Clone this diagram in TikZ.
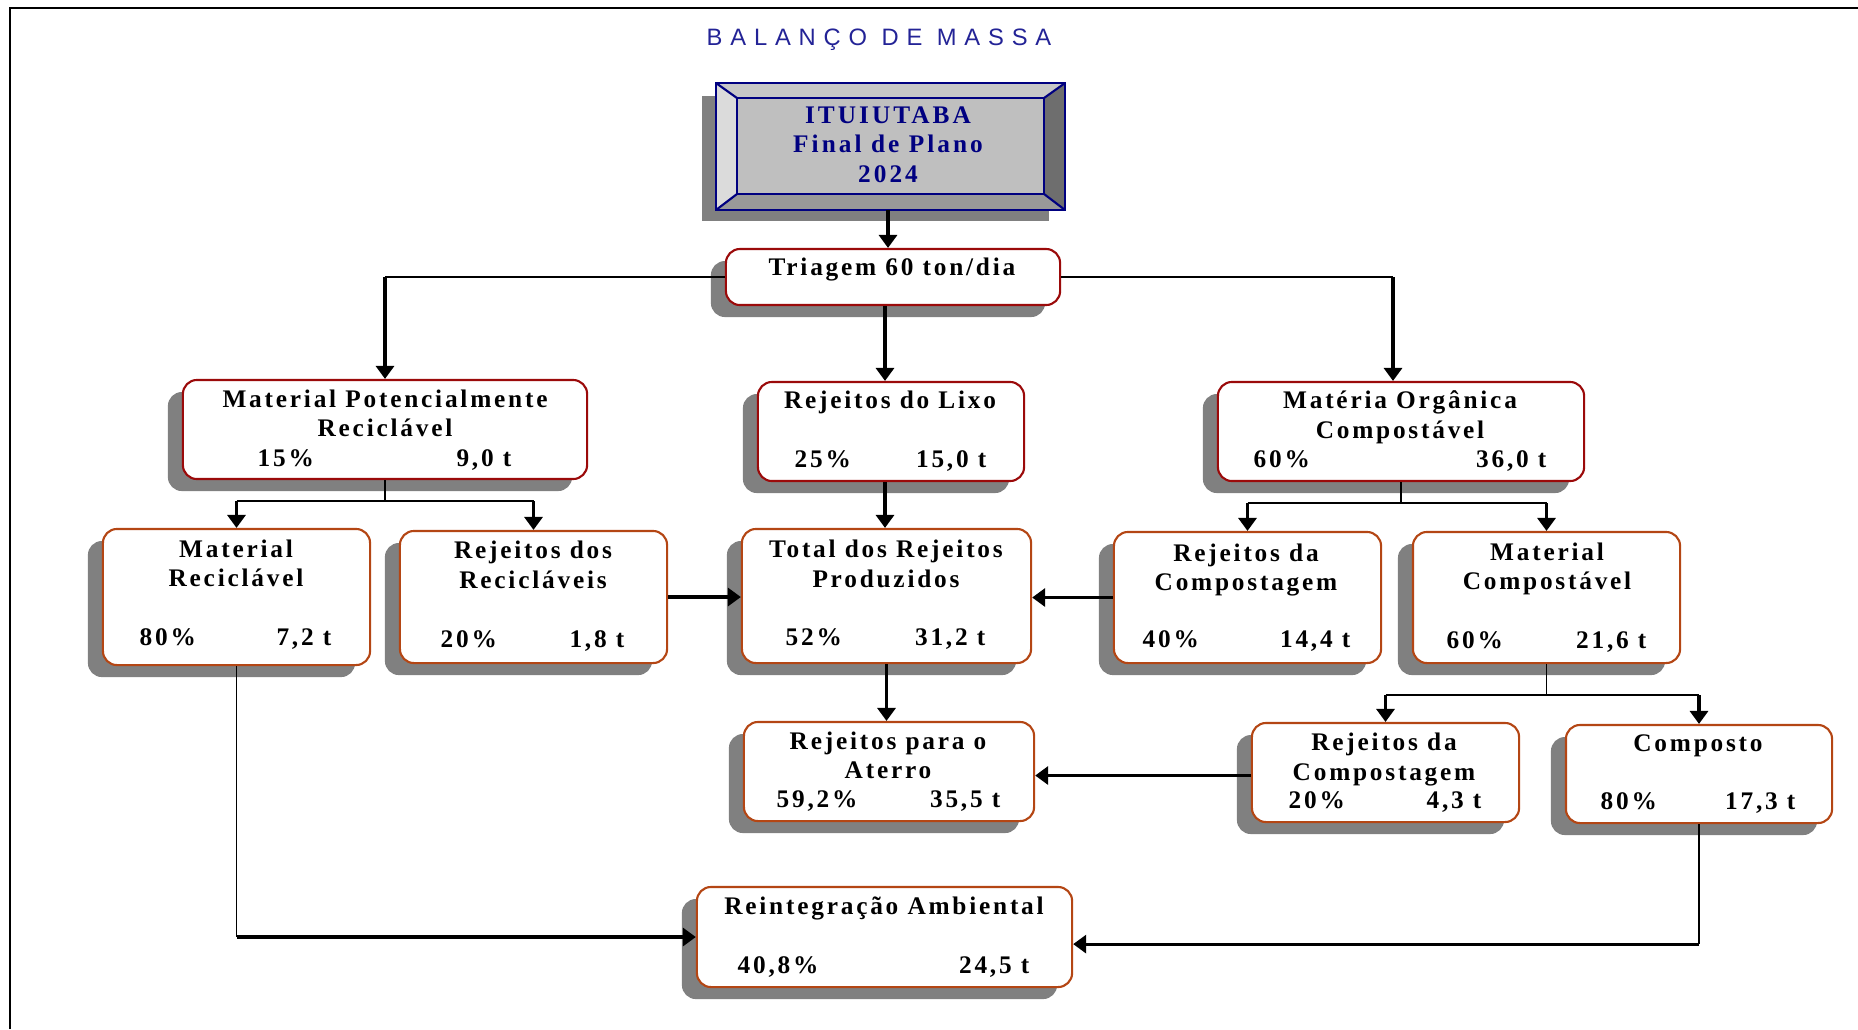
\documentclass[tikz,border=0pt]{standalone}
\usepackage{fontspec}
\setmainfont{Liberation Serif}
\newfontfamily\caixafont[LetterSpace=11]{Liberation Serif}
\newfontfamily\topofont[LetterSpace=12]{Liberation Serif}
\newfontfamily\titulofont[LetterSpace=33]{Liberation Sans}
\usepackage{tikz}
\usetikzlibrary{positioning,shadows,calc,arrows.meta}
\usepackage{xcolor}

\definecolor{marinho}{RGB}{0,0,128}
\definecolor{titazul}{RGB}{35,35,150}
\definecolor{vinho}{RGB}{155,10,10}
\definecolor{ferrugem}{RGB}{180,70,20}

\tikzset{
  caixa/.style={rectangle, draw=ferrugem, line width=0.6pt, fill=white, rounded corners=0.14cm,
    drop shadow={shadow xshift=-0.15cm, shadow yshift=-0.12cm, fill=black!50, opacity=1}},
  txt/.style={inner sep=0pt, font=\caixafont\bfseries\fontsize{7.2}{8.6}\selectfont},
  seta/.style={-{Triangle[length=0.13cm,width=0.18cm]}, line width=0.9pt},
  fina/.style={line width=0.45pt},
}

\begin{document}
\begin{tikzpicture}[x=0.01cm, y=-0.01cm]

  \useasboundingbox (0,0) rectangle (1858,1029);
  \draw[line width=0.7pt] (10,1029) -- (10,8) -- (1858,8);

  % Title
  \node[inner sep=0pt, anchor=base, text=titazul, font=\titulofont\fontsize{6.75}{8}\selectfont] (titulo) at (879,45) {BALANÇO DE MASSA};

  % Top box
  \node[draw=marinho, line width=0.6pt, fill=black!25, minimum width=3.47cm, minimum height=1.25cm,
    drop shadow={shadow xshift=-0.15cm, shadow yshift=-0.12cm, fill=black!50, opacity=1}] (topo) at (890.5,146.5) {};
  \coordinate (inw) at ($(topo.north west)+(21,15)$);
  \coordinate (ine) at ($(topo.north east)+(-21,15)$);
  \coordinate (ise) at ($(topo.south east)+(-21,-16)$);
  \coordinate (isw) at ($(topo.south west)+(21,-16)$);
  \fill[black!22] (topo.north west) -- (topo.north east) -- (ine) -- (inw) -- cycle;
  \fill[black!14] (topo.north west) -- (inw) -- (isw) -- (topo.south west) -- cycle;
  \fill[black!57] (topo.north east) -- (topo.south east) -- (ise) -- (ine) -- cycle;
  \fill[black!40] (topo.south west) -- (isw) -- (ise) -- (topo.south east) -- cycle;
  \draw[marinho, line width=0.6pt, fill=black!25] (inw) rectangle (ise);
  \draw[marinho, line width=0.6pt] (topo.north west) -- (inw) (topo.north east) -- (ine)
    (topo.south east) -- (ise) (topo.south west) -- (isw);
  \draw[marinho, line width=0.6pt] (topo.north west) rectangle (topo.south east);
  \node[txt, anchor=base, text=marinho, font=\topofont\bfseries\fontsize{7.2}{8.6}\selectfont] (topo-l1) at (888,123) {ITUIUTABA};
  \node[txt, anchor=base, text=marinho, font=\topofont\bfseries\fontsize{7.2}{8.6}\selectfont] (topo-l2) at (888,152) {Final de Plano};
  \node[txt, anchor=base, text=marinho, font=\topofont\bfseries\fontsize{7.2}{8.6}\selectfont] (topo-l3) at (888,182) {2024};

  % Boxes
  \node[caixa, draw=vinho, minimum width=3.34cm, minimum height=0.56cm] (tri) at (893,277) {};
  \node[caixa, draw=vinho, minimum width=4.04cm, minimum height=0.99cm] (mpr) at (385,429.5) {};
  \node[caixa, draw=vinho, minimum width=2.66cm, minimum height=0.99cm] (rdl) at (891,431.5) {};
  \node[caixa, draw=vinho, minimum width=3.66cm, minimum height=0.99cm] (moc) at (1401,431.5) {};
  \node[caixa, minimum width=2.67cm, minimum height=1.36cm] (mr) at (236.5,597) {};
  \node[caixa, minimum width=2.67cm, minimum height=1.32cm] (rdr) at (533.5,597) {};
  \node[caixa, minimum width=2.89cm, minimum height=1.34cm] (tot) at (886.5,596) {};
  \node[caixa, minimum width=2.67cm, minimum height=1.31cm] (rdc) at (1247.5,597.5) {};
  \node[caixa, minimum width=2.67cm, minimum height=1.31cm] (mc) at (1546.5,597.5) {};
  \node[caixa, minimum width=2.90cm, minimum height=0.99cm] (rpa) at (889,771.5) {};
  \node[caixa, minimum width=2.67cm, minimum height=0.99cm] (rdc2) at (1385.5,772.5) {};
  \node[caixa, minimum width=2.66cm, minimum height=0.98cm] (comp) at (1699,774) {};
  \node[caixa, minimum width=3.75cm, minimum height=1.00cm] (rei) at (884.5,937) {};

  % Texts
  \node[txt, anchor=base] (tri-l1) at (892,275) {Triagem 60 ton/dia};

  \node[txt, anchor=base] (mpr-l1) at (385,407) {Material Potencialmente};
  \node[txt, anchor=base] (mpr-l2) at (385,436) {Reciclável};
  \node[txt, anchor=base west] (mpr-p) at (257,466) {15\%};
  \node[txt, anchor=base east] (mpr-t) at (512,466) {9,0 t};

  \node[txt, anchor=base] (rdl-l1) at (890,408) {Rejeitos do Lixo};
  \node[txt, anchor=base west] (rdl-p) at (794,467) {25\%};
  \node[txt, anchor=base east] (rdl-t) at (987,467) {15,0 t};

  \node[txt, anchor=base] (moc-l1) at (1400,408) {Matéria Orgânica};
  \node[txt, anchor=base] (moc-l2) at (1400,438) {Compostável};
  \node[txt, anchor=base west] (moc-p) at (1253,467) {60\%};
  \node[txt, anchor=base east] (moc-t) at (1547,467) {36,0 t};

  \node[txt, anchor=base] (mr-l1) at (236,557) {Material};
  \node[txt, anchor=base] (mr-l2) at (236,586) {Reciclável};
  \node[txt, anchor=base west] (mr-p) at (139,645) {80\%};
  \node[txt, anchor=base east] (mr-t) at (332,645) {7,2 t};

  \node[txt, anchor=base] (rdr-l1) at (533,558) {Rejeitos dos};
  \node[txt, anchor=base] (rdr-l2) at (533,588) {Recicláveis};
  \node[txt, anchor=base west] (rdr-p) at (440,647) {20\%};
  \node[txt, anchor=base east] (rdr-t) at (625,647) {1,8 t};

  \node[txt, anchor=base] (tot-l1) at (886,557) {Total dos Rejeitos};
  \node[txt, anchor=base] (tot-l2) at (886,587) {Produzidos};
  \node[txt, anchor=base west] (tot-p) at (785,645) {52\%};
  \node[txt, anchor=base east] (tot-t) at (986,645) {31,2 t};

  \node[txt, anchor=base] (rdc-l1) at (1246,561) {Rejeitos da};
  \node[txt, anchor=base] (rdc-l2) at (1246,590) {Compostagem};
  \node[txt, anchor=base west] (rdc-p) at (1142,647) {40\%};
  \node[txt, anchor=base east] (rdc-t) at (1351,647) {14,4 t};

  \node[txt, anchor=base] (mc-l1) at (1547,560) {Material};
  \node[txt, anchor=base] (mc-l2) at (1547,589) {Compostável};
  \node[txt, anchor=base west] (mc-p) at (1446,648) {60\%};
  \node[txt, anchor=base east] (mc-t) at (1647,648) {21,6 t};

  \node[txt, anchor=base] (rpa-l1) at (888,749) {Rejeitos para o};
  \node[txt, anchor=base] (rpa-l2) at (888,778) {Aterro};
  \node[txt, anchor=base west] (rpa-p) at (776,807) {59,2\%};
  \node[txt, anchor=base east] (rpa-t) at (1001,807) {35,5 t};

  \node[txt, anchor=base] (rdc2-l1) at (1384,750) {Rejeitos da};
  \node[txt, anchor=base] (rdc2-l2) at (1384,780) {Compostagem};
  \node[txt, anchor=base west] (rdc2-p) at (1288,808) {20\%};
  \node[txt, anchor=base east] (rdc2-t) at (1482,808) {4,3 t};

  \node[txt, anchor=base] (comp-l1) at (1698,751) {Composto};
  \node[txt, anchor=base west] (comp-p) at (1600,809) {80\%};
  \node[txt, anchor=base east] (comp-t) at (1796,809) {17,3 t};

  \node[txt, anchor=base] (rei-l1) at (884,914) {Reintegração Ambiental};
  \node[txt, anchor=base west] (rei-p) at (737,973) {40,8\%};
  \node[txt, anchor=base east] (rei-t) at (1030,973) {24,5 t};

  % Arrows
  \draw[seta] (topo.south -| topo-l1) -- (tri.north -| topo-l1);

  \draw[fina] (tri.west) -- (mpr.north |- tri.west);
  \draw[seta] (mpr.north |- tri.west) -- (mpr.north);
  \draw[fina] (tri.east) -- ([xshift=-0.08cm]moc.north |- tri.east);
  \draw[seta] ([xshift=-0.08cm]moc.north |- tri.east) -- ([xshift=-0.08cm]moc.north);
  \draw[seta] ([xshift=-0.06cm]rdl.north |- tri.south) -- ([xshift=-0.06cm]rdl.north);

  \draw[fina] (mpr.south) -- ++(0,21) coordinate (j1);
  \draw[fina] (mr.north |- j1) -- (rdr.north |- j1);
  \draw[seta] (mr.north |- j1) -- (mr.north);
  \draw[seta] (rdr.north |- j1) -- (rdr.north);

  \draw[fina] (moc.south) -- ++(0,21) coordinate (j2);
  \draw[fina] (rdc.north |- j2) -- (mc.north |- j2);
  \draw[seta] (rdc.north |- j2) -- (rdc.north);
  \draw[seta] (mc.north |- j2) -- (mc.north);

  \draw[fina] (mc.south) -- ++(0,31) coordinate (j3);
  \draw[fina] (rdc2.north |- j3) -- (comp.north |- j3);
  \draw[seta] (rdc2.north |- j3) -- (rdc2.north);
  \draw[seta] (comp.north |- j3) -- (comp.north);

  \draw[seta] ([xshift=-0.06cm]rdl.south) -- ([xshift=-0.06cm]rdl.south |- tot.north);
  \draw[seta] (rdr.east) -- (rdr.east -| tot.west);
  \draw[seta] (rdc.west) -- (rdc.west -| tot.east);
  \draw[seta] (tot.south) -- (tot.south |- rpa.north);
  \draw[seta] ([yshift=-0.03cm]rdc2.west) -- ([yshift=-0.03cm]rdc2.west -| rpa.east);

  \draw[fina] (mr.south) -- (mr.south |- rei.west);
  \draw[seta] (mr.south |- rei.west) -- (rei.west);
  \draw[fina] (comp.south) -- ++(0,120) coordinate (j4);
  \draw[seta] (j4) -- (j4 -| rei.east);

\end{tikzpicture}
\end{document}
